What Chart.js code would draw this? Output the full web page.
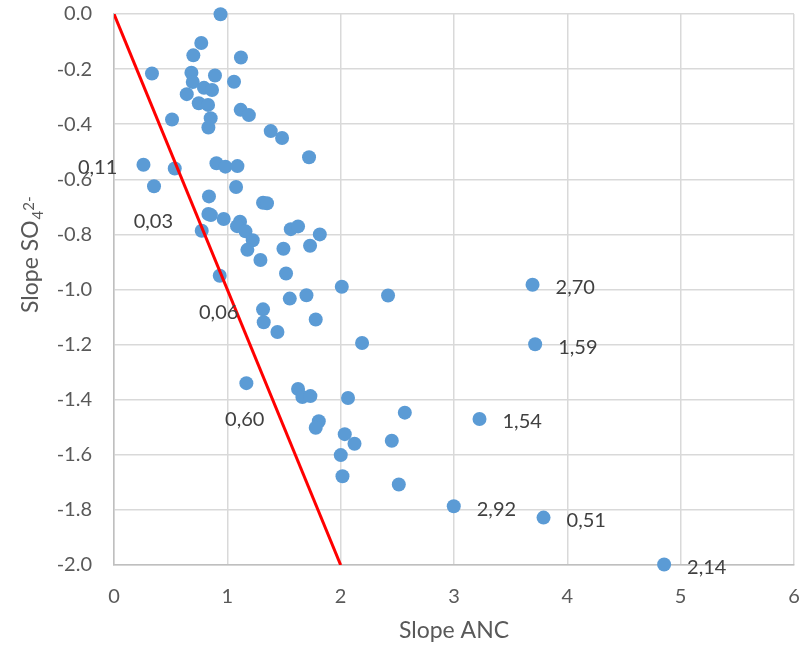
<!DOCTYPE html>
<html>
<head>
<meta charset="utf-8">
<script src="https://cdn.jsdelivr.net/npm/chart.js@4/dist/chart.umd.min.js"></script>
<style>
  html, body { margin: 0; padding: 0; background: #fff; }
</style>
</head>
<body>
<canvas id="chart" width="809" height="648"></canvas>
<script>
// Slope ANC (x) and Slope SO4 2- (y) for each site
const slopeANC = [
    0.94, 0.77, 0.70, 1.12, 0.335, 0.683, 0.891, 0.695, 1.059, 0.794,
    0.865, 0.642, 0.748, 0.83, 1.118, 1.19, 0.512, 0.853, 0.833, 1.383,
    1.483, 1.721, 0.26, 0.536, 0.904, 0.983, 1.089, 0.353, 1.077, 0.838,
    1.315, 1.35, 0.833, 0.855, 0.968, 1.112, 1.086, 1.16, 0.774, 1.224,
    1.177, 1.56, 1.624, 1.816, 1.495, 1.73, 1.292, 1.518, 0.933, 2.01,
    1.698, 1.551, 1.315, 1.78, 1.321, 1.442, 2.418, 2.189, 2.065, 2.566,
    2.036, 2.122, 2.451, 2.001, 2.016, 2.513, 1.168, 1.624, 1.662, 1.733,
    1.807, 1.78,
    3.693, 3.716, 3.225, 2.998, 3.79, 4.854
];
const slopeSO4 = [
    -0.001, -0.105, -0.15, -0.158, -0.216, -0.213, -0.223, -0.247, -0.246, -0.268,
    -0.276, -0.291, -0.324, -0.33, -0.348, -0.367, -0.383, -0.378, -0.412, -0.425,
    -0.45, -0.52, -0.547, -0.561, -0.542, -0.554, -0.552, -0.625, -0.628, -0.662,
    -0.685, -0.687, -0.726, -0.73, -0.744, -0.754, -0.77, -0.789, -0.787, -0.821,
    -0.856, -0.781, -0.771, -0.80, -0.852, -0.841, -0.893, -0.942, -0.95, -0.99,
    -1.021, -1.033, -1.072, -1.109, -1.119, -1.154, -1.022, -1.194, -1.394, -1.447,
    -1.525, -1.56, -1.549, -1.601, -1.678, -1.708, -1.34, -1.361, -1.39, -1.387,
    -1.478, -1.502,
    -0.983, -1.199, -1.47, -1.787, -1.828, -1.998
];

// labelled points (index into the arrays above)
const labelIdx = [72, 73, 74, 75, 76, 77];
const labelText = ['2,70', '1,59', '1,54', '2,92', '0,51', '2,14'];

// free-standing labels, in data units
const noteText = ['0,11', '0,03', '0,06', '0,60'];
const noteX = [-0.318, 0.174, 0.75, 0.98];
const noteY = [-0.559, -0.754, -1.084, -1.473];

// red reference line
const refLineX = [0, 2];
const refLineY = [0, -2];

const tickColor = '#595959';
const fontFamily = 'Lato, "Open Sans", sans-serif';

const labelsPlugin = {
    id: 'pointLabels',
    afterDraw(chart) {
        const ctx = chart.ctx;
        const xs = chart.scales.x;
        const ys = chart.scales.y;
        ctx.save();
        ctx.font = '20px ' + fontFamily;
        ctx.fillStyle = '#404040';
        ctx.textAlign = 'left';
        ctx.textBaseline = 'middle';
        labelIdx.forEach((i, k) => {
            ctx.fillText(labelText[k], xs.getPixelForValue(slopeANC[i]) + 23, ys.getPixelForValue(slopeSO4[i]) + 3);
        });
        noteText.forEach((t, k) => {
            ctx.fillText(t, xs.getPixelForValue(noteX[k]), ys.getPixelForValue(noteY[k]));
        });

        // axis titles
        ctx.fillStyle = tickColor;
        ctx.font = '23px ' + fontFamily;
        ctx.textAlign = 'center';
        ctx.textBaseline = 'alphabetic';
        ctx.fillText('Slope ANC', (chart.chartArea.left + chart.chartArea.right) / 2, 638);

        ctx.translate(38, 313);
        ctx.rotate(-Math.PI / 2);
        ctx.textAlign = 'left';
        ctx.fillText('Slope SO', 0, 0);
        const w = ctx.measureText('Slope SO').width;
        ctx.font = '15px ' + fontFamily;
        ctx.fillText('4', w + 1, 5);
        const w4 = ctx.measureText('4').width;
        ctx.fillText('2-', w + 1 + w4, -4);
        ctx.restore();
    }
};

// no extra room for edge tick labels, the layout padding handles it
function noEdgePadding(s) {
    s.paddingTop = 0;
    s.paddingBottom = 0;
    s.paddingLeft = 0;
    s.paddingRight = 0;
}

new Chart(document.getElementById('chart'), {
    type: 'scatter',
    data: {
        datasets: [
            {
                type: 'line',
                data: refLineX.map((x, i) => ({ x: x, y: refLineY[i] })),
                borderColor: '#FF0000',
                borderWidth: 3,
                pointRadius: 0,
                fill: false,
                order: 0,
            },
            {
                data: slopeANC.map((x, i) => ({ x: x, y: slopeSO4[i] })),
                backgroundColor: '#5B9BD5',
                borderColor: '#5B9BD5',
                borderWidth: 0,
                pointRadius: 7,
                pointHoverRadius: 7,
                clip: false,
                order: 1,
            }
        ]
    },
    options: {
        responsive: false,
        animation: false,
        layout: { autoPadding: false, padding: { top: 14, right: 15, left: 0, bottom: 0 } },
        plugins: { legend: { display: false }, tooltip: { enabled: false } },
        scales: {
            x: {
                type: 'linear',
                min: 0,
                max: 6,
                ticks: { stepSize: 1, color: tickColor, font: { family: fontFamily, size: 20 }, padding: 20 },
                grid: { color: '#D9D9D9', lineWidth: 1.5, drawTicks: false },
                border: { color: '#BFBFBF', width: 1.5 },
                afterFit: (s) => { s.height = 83; noEdgePadding(s); },
            },
            y: {
                type: 'linear',
                min: -2,
                max: 0,
                ticks: {
                    stepSize: 0.2,
                    color: tickColor,
                    font: { family: fontFamily, size: 20 },
                    padding: 22,
                    callback: (v) => v.toFixed(1),
                },
                grid: { color: '#D9D9D9', lineWidth: 1.5, drawTicks: false },
                border: { color: '#BFBFBF', width: 1.5 },
                afterFit: (s) => { s.width = 114; noEdgePadding(s); },
            }
        }
    },
    plugins: [labelsPlugin]
});
</script>
</body>
</html>
